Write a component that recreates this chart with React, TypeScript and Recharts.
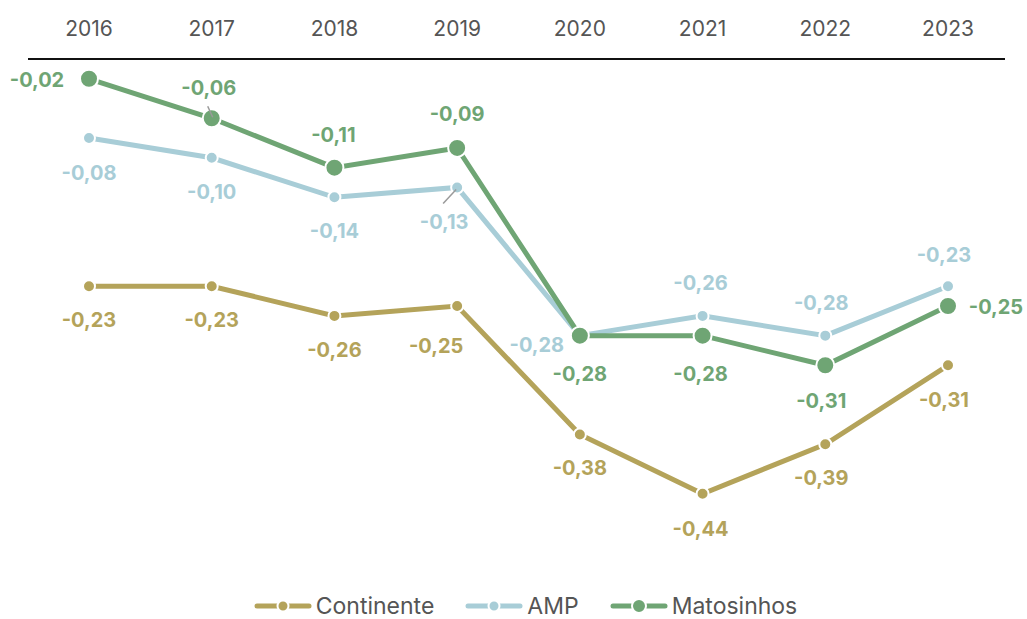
import React from "react";
import { LineChart, Line, XAxis, YAxis, Legend, LabelList } from "recharts";

const years = ["2016", "2017", "2018", "2019", "2020", "2021", "2022", "2023"];
const continente = [-0.23, -0.23, -0.26, -0.25, -0.38, -0.44, -0.39, -0.31];
const amp = [-0.08, -0.1, -0.14, -0.13, -0.28, -0.26, -0.28, -0.23];
const matosinhos = [-0.02, -0.06, -0.11, -0.09, -0.28, -0.28, -0.31, -0.25];

const COLORS = {
  continente: "#b4a35a",
  amp: "#a8cdd7",
  matosinhos: "#6fa574",
};

// label offsets from each point [dx, dy]
const contOffsets = [[0, 34], [0, 34], [0, 34], [-21, 40], [0, 34], [-2, 35], [-4, 34], [-4, 35]];
const ampOffsets = [[0, 35], [0, 34], [0, 34], [-13, 35], [-43, 9], [-2, -33], [-4, -33], [-4, -31]];
const matOffsets = [[-52, 1], [-3, -30], [-1, -33], [0, -34], [0, 38], [-2, 38], [-4, 36], [48, 1]];

const data = years.map((year, i) => ({
  year,
  continente: continente[i],
  amp: amp[i],
  matosinhos: matosinhos[i],
}));

const FONT = "Inter, Roboto, sans-serif";

const fmt = (v: number) => v.toFixed(2).replace(".", ",");

const makeLabel =
  (offsets: number[][], color: string, leaders: Record<number, number[]> = {}) =>
  (props: any) => {
    const { x, y, value, index } = props;
    if (x == null || y == null) return null;
    const [dx, dy] = offsets[index] || [0, 0];
    const leader = leaders[index];
    return (
      <g key={`lbl-${index}`}>
        {leader && (
          <line
            x1={x + leader[0]}
            y1={y + leader[1]}
            x2={x + leader[2]}
            y2={y + leader[3]}
            stroke="#9a9a9a"
            strokeWidth={1.5}
          />
        )}
        <text
          x={x + dx}
          y={y + dy}
          textAnchor="middle"
          dominantBaseline="central"
          fill={color}
          fontSize={20}
          fontWeight={700}
          fontFamily={FONT}
        >
          {fmt(Number(value))}
        </text>
      </g>
    );
  };

const legendItems = [
  { name: "Continente", color: COLORS.continente, r: 5.5 },
  { name: "AMP", color: COLORS.amp, r: 5.5 },
  { name: "Matosinhos", color: COLORS.matosinhos, r: 7 },
];

const CustomLegend = () => (
  <div
    style={{
      display: "flex",
      justifyContent: "center",
      alignItems: "center",
      gap: 31,
      paddingTop: 40,
      paddingLeft: 18,
      height: 26,
      fontFamily: FONT,
      fontSize: 23,
      color: "#555",
    }}
  >
    {legendItems.map((it) => (
      <div key={it.name} style={{ display: "flex", alignItems: "center" }}>
        <svg width={58} height={20} style={{ marginRight: 4 }}>
          <line x1={3} y1={10} x2={55} y2={10} stroke={it.color} strokeWidth={5} strokeLinecap="round" />
          <circle cx={29} cy={10} r={it.r} fill={it.color} stroke="#fff" strokeWidth={2} />
        </svg>
        <span style={{ lineHeight: "26px" }}>{it.name}</span>
      </div>
    ))}
  </div>
);

export default function App() {
  return (
    <div style={{ position: "absolute", left: 0, top: 0, width: 1027, height: 619, background: "#fff" }}>
      <LineChart width={1027} height={619} data={data} margin={{ top: 1, right: 22, left: 28, bottom: 0 }}>
        <XAxis
          dataKey="year"
          orientation="top"
          height={58}
          axisLine={{ stroke: "#111", strokeWidth: 2 }}
          tickLine={false}
          tickMargin={17}
          padding={{ left: 61, right: 57 }}
          tick={{ fill: "#555", fontSize: 21, fontFamily: FONT }}
          interval={0}
        />
        <YAxis hide domain={[-0.5, 0]} />
        <Legend verticalAlign="bottom" height={66} content={<CustomLegend />} />
        <Line
          dataKey="continente"
          name="Continente"
          stroke={COLORS.continente}
          strokeWidth={5}
          dot={{ r: 6, fill: COLORS.continente, stroke: "#fff", strokeWidth: 2 }}
          isAnimationActive={false}
        >
          <LabelList dataKey="continente" content={makeLabel(contOffsets, COLORS.continente)} />
        </Line>
        <Line
          dataKey="amp"
          name="AMP"
          stroke={COLORS.amp}
          strokeWidth={5}
          dot={{ r: 6, fill: COLORS.amp, stroke: "#fff", strokeWidth: 2 }}
          isAnimationActive={false}
        >
          <LabelList dataKey="amp" content={makeLabel(ampOffsets, COLORS.amp, { 3: [-14, 16, -1, 2] })} />
        </Line>
        <Line
          dataKey="matosinhos"
          name="Matosinhos"
          stroke={COLORS.matosinhos}
          strokeWidth={5}
          dot={{ r: 9, fill: COLORS.matosinhos, stroke: "#fff", strokeWidth: 2 }}
          isAnimationActive={false}
        >
          <LabelList
            dataKey="matosinhos"
            content={makeLabel(matOffsets, COLORS.matosinhos, { 1: [-4, -12, 1, -1] })}
          />
        </Line>
      </LineChart>
    </div>
  );
}
